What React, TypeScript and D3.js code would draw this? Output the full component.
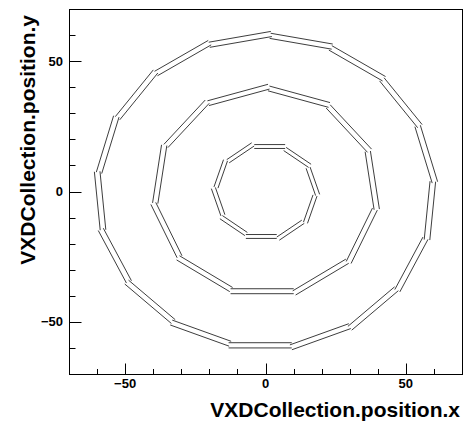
import React from "react";
import * as d3 from "d3";

// Ladder normal angles (degrees) for each VXD double layer
const innerLadderPhi = [270, 306, 342, 18, 54, 90, 126, 162, 198, 234];
const middleLadderPhi = [270, 302.73, 335.45, 8.18, 40.91, 73.64, 106.36, 139.09, 171.82, 204.55, 237.27];
const outerLadderPhi = [
  270, 291.18, 312.35, 333.53, 354.71, 15.88, 37.06, 58.24, 79.41,
  100.59, 121.76, 142.94, 164.12, 185.29, 206.47, 227.65, 248.82,
];

// Sensor radii (mm) of the two sensor planes in each double layer
const innerRadii = [16.5, 18.0];
const middleRadii = [37.3, 39.2];
const outerRadii = [58.0, 60.0];

// Ladder width and sideways shift along the ladder plane (mm)
const ladderWidths = [11, 22.5, 22.5];
const ladderShifts = [-1.5, -1.2, -1.9];

// Axis ticks
const majorTicks = [-50, 0, 50];
const minorTicks = [-60, -40, -30, -20, -10, 10, 20, 30, 40, 60];

const W = 465;
const H = 421;
const frame = { left: 69, right: 462, top: 9, bottom: 374 };

type Seg = [number, number][];

function ladderSegments(phis: number[], radii: number[], width: number, shift: number): Seg[] {
  const segs: Seg[] = [];
  for (const r of radii) {
    for (const deg of phis) {
      const a = (deg * Math.PI) / 180;
      const nx = Math.cos(a), ny = Math.sin(a);
      const tx = -Math.sin(a), ty = Math.cos(a);
      const cx = r * nx + shift * tx;
      const cy = r * ny + shift * ty;
      const h = width / 2;
      segs.push([
        [cx - h * tx, cy - h * ty],
        [cx + h * tx, cy + h * ty],
      ]);
    }
  }
  return segs;
}

export default function App() {
  const x = d3.scaleLinear().domain([-70, 70]).range([frame.left, frame.right]);
  const y = d3.scaleLinear().domain([-70, 70]).range([frame.bottom, frame.top]);
  const line = d3
    .line<[number, number]>()
    .x((d) => x(d[0]))
    .y((d) => y(d[1]));

  const segs = [
    ...ladderSegments(innerLadderPhi, innerRadii, ladderWidths[0], ladderShifts[0]),
    ...ladderSegments(middleLadderPhi, middleRadii, ladderWidths[1], ladderShifts[1]),
    ...ladderSegments(outerLadderPhi, outerRadii, ladderWidths[2], ladderShifts[2]),
  ];

  const px = (v: number) => Math.round(x(v)) + 0.5;
  const py = (v: number) => Math.round(y(v)) + 0.5;
  const fb = frame.bottom + 0.5;
  const fl = frame.left + 0.5;
  const font = "'Liberation Sans', Arial, Helvetica, sans-serif";

  return (
    <svg
      width={W}
      height={H}
      style={{ position: "absolute", left: 0, top: 0, background: "#fff" }}
      fontFamily={font}
    >
      <rect x={0} y={0} width={W} height={H} fill="#fff" />
      <g fill="none" stroke="#333" strokeWidth={0.95}>
        {segs.map((s, i) => (
          <path key={i} d={line(s) ?? ""} />
        ))}
      </g>
      <rect
        x={fl}
        y={frame.top + 0.5}
        width={frame.right - frame.left}
        height={frame.bottom - frame.top}
        fill="none"
        stroke="#000"
        strokeWidth={1}
      />
      <g stroke="#000" strokeWidth={1}>
        {majorTicks.map((v) => (
          <line key={"xM" + v} x1={px(v)} x2={px(v)} y1={fb} y2={fb - 11} />
        ))}
        {minorTicks.map((v) => (
          <line key={"xm" + v} x1={px(v)} x2={px(v)} y1={fb} y2={fb - 5.5} />
        ))}
        {majorTicks.map((v) => (
          <line key={"yM" + v} y1={py(v)} y2={py(v)} x1={fl} x2={fl + 12} />
        ))}
        {minorTicks.map((v) => (
          <line key={"ym" + v} y1={py(v)} y2={py(v)} x1={fl} x2={fl + 6} />
        ))}
      </g>
      <g fontSize={13} fontWeight="bold" fill="#000">
        {majorTicks.map((v) => (
          <text key={"xl" + v} x={x(v)} y={388} textAnchor="middle">
            {v < 0 ? "\u2212" + Math.abs(v) : String(v)}
          </text>
        ))}
        {majorTicks.map((v) => (
          <text key={"yl" + v} x={63} y={y(v) + 4.5} textAnchor="end">
            {v < 0 ? "\u2212" + Math.abs(v) : String(v)}
          </text>
        ))}
      </g>
      <text x={460} y={416.5} textAnchor="end" fontSize={21} fontWeight="bold" fill="#000">
        VXDCollection.position.x
      </text>
      <text
        transform="translate(35,15) rotate(-90)"
        textAnchor="end"
        fontSize={21}
        fontWeight="bold"
        fill="#000"
      >
        VXDCollection.position.y
      </text>
    </svg>
  );
}
